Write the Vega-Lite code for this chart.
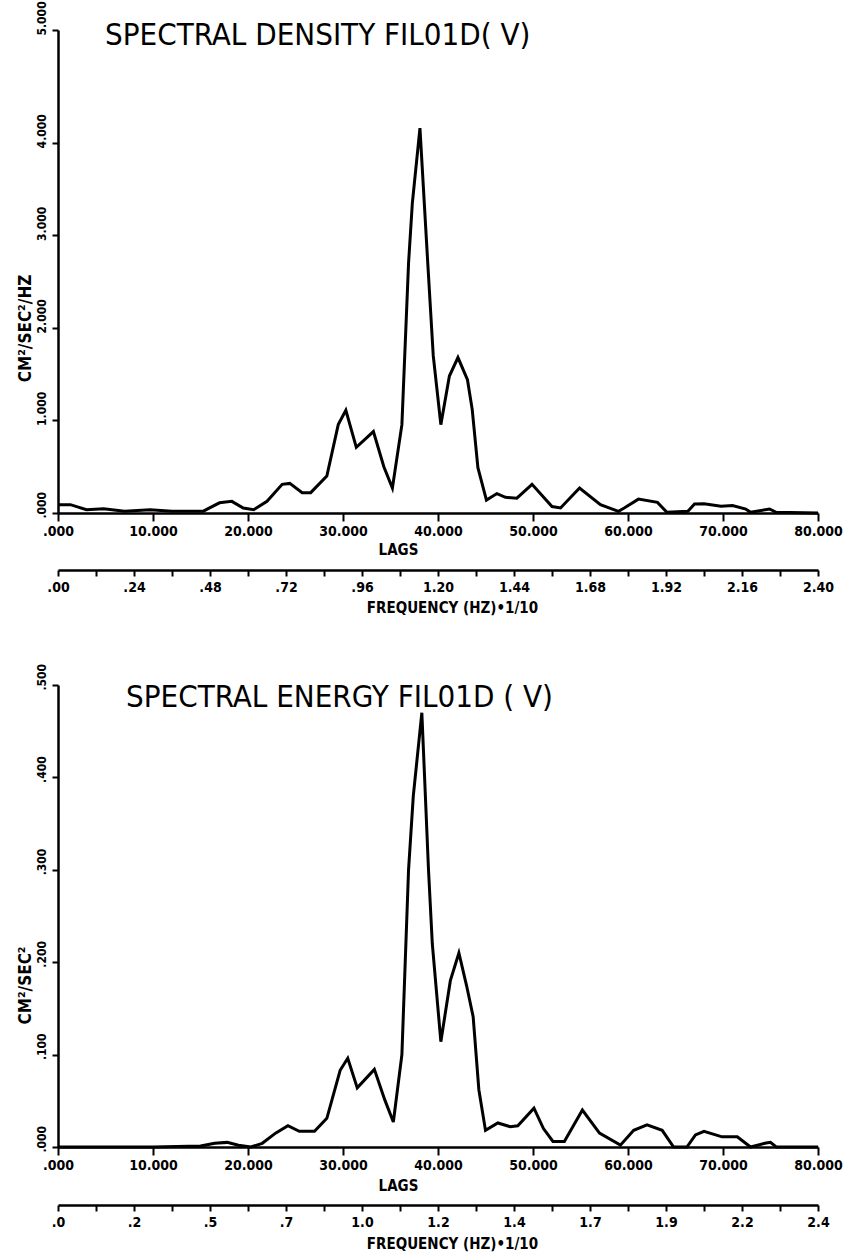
{
  "$schema": "https://vega.github.io/schema/vega-lite/v6.json",
  "background": "white",
  "padding": {"left": 16, "top": 0, "right": 5, "bottom": 5},
  "spacing": 172,
  "bounds": "flush",
  "config": {
    "view": {"stroke": null},
    "font": "DejaVu Sans Condensed, Liberation Sans Narrow, DejaVu Sans, sans-serif",
    "axis": {
      "grid": false,
      "domainColor": "black",
      "domainWidth": 2.5,
      "tickColor": "black",
      "tickWidth": 2,
      "labelColor": "black",
      "titleColor": "black",
      "labelFont": "DejaVu Sans Condensed, Liberation Sans Narrow, DejaVu Sans, sans-serif",
      "titleFont": "DejaVu Sans Condensed, Liberation Sans Narrow, DejaVu Sans, sans-serif",
      "labelFontWeight": "bold",
      "titleFontWeight": "bold",
      "labelFlush": false,
      "labelOverlap": false
    }
  },
  "datasets": {
    "density": [
      {"lag": 0, "value": 0.09}, {"lag": 1.3, "value": 0.09}, {"lag": 3, "value": 0.036},
      {"lag": 4.8, "value": 0.045}, {"lag": 7, "value": 0.02}, {"lag": 9.7, "value": 0.036},
      {"lag": 12, "value": 0.02}, {"lag": 15.3, "value": 0.02}, {"lag": 17, "value": 0.11},
      {"lag": 18.3, "value": 0.126}, {"lag": 19.5, "value": 0.054}, {"lag": 20.6, "value": 0.036},
      {"lag": 22, "value": 0.126}, {"lag": 23.6, "value": 0.31}, {"lag": 24.4, "value": 0.32},
      {"lag": 25.7, "value": 0.22}, {"lag": 26.6, "value": 0.22}, {"lag": 28.3, "value": 0.4},
      {"lag": 29.5, "value": 0.955}, {"lag": 30.3, "value": 1.11}, {"lag": 31.4, "value": 0.71},
      {"lag": 33.2, "value": 0.88}, {"lag": 34.3, "value": 0.5}, {"lag": 35.2, "value": 0.27},
      {"lag": 36.2, "value": 0.955}, {"lag": 36.9, "value": 2.7}, {"lag": 37.3, "value": 3.35},
      {"lag": 38.1, "value": 4.16}, {"lag": 38.9, "value": 2.74}, {"lag": 39.5, "value": 1.7},
      {"lag": 40.3, "value": 0.955}, {"lag": 41.2, "value": 1.48}, {"lag": 42.1, "value": 1.68},
      {"lag": 43.1, "value": 1.44}, {"lag": 43.6, "value": 1.12}, {"lag": 44.2, "value": 0.49},
      {"lag": 45.1, "value": 0.14}, {"lag": 46.2, "value": 0.21}, {"lag": 47.1, "value": 0.17},
      {"lag": 48.3, "value": 0.16}, {"lag": 49.9, "value": 0.31}, {"lag": 52.0, "value": 0.07},
      {"lag": 52.9, "value": 0.054}, {"lag": 54.9, "value": 0.27}, {"lag": 57.1, "value": 0.09},
      {"lag": 59.0, "value": 0.018}, {"lag": 59.6, "value": 0.054}, {"lag": 61.1, "value": 0.15},
      {"lag": 63.1, "value": 0.115}, {"lag": 64.1, "value": 0.007}, {"lag": 66.3, "value": 0.018},
      {"lag": 67.0, "value": 0.097}, {"lag": 68.0, "value": 0.1}, {"lag": 69.8, "value": 0.072},
      {"lag": 71.0, "value": 0.08}, {"lag": 72.4, "value": 0.043}, {"lag": 72.9, "value": 0.007},
      {"lag": 74.9, "value": 0.043}, {"lag": 75.6, "value": 0.007}, {"lag": 80, "value": 0.0}
    ],
    "energy": [
      {"lag": 0, "value": 0.0}, {"lag": 5, "value": 0.0}, {"lag": 10, "value": 0.0},
      {"lag": 15, "value": 0.001}, {"lag": 16.5, "value": 0.004}, {"lag": 17.8, "value": 0.005},
      {"lag": 19, "value": 0.002}, {"lag": 20.3, "value": 0.0}, {"lag": 21.5, "value": 0.004},
      {"lag": 22.9, "value": 0.015}, {"lag": 24.2, "value": 0.023}, {"lag": 25.4, "value": 0.017},
      {"lag": 27, "value": 0.017}, {"lag": 28.3, "value": 0.031}, {"lag": 29.7, "value": 0.083},
      {"lag": 30.5, "value": 0.096}, {"lag": 31.5, "value": 0.064}, {"lag": 33.3, "value": 0.084},
      {"lag": 34.4, "value": 0.051}, {"lag": 35.3, "value": 0.027}, {"lag": 36.2, "value": 0.1},
      {"lag": 36.9, "value": 0.3}, {"lag": 37.4, "value": 0.38}, {"lag": 38.3, "value": 0.47},
      {"lag": 39.0, "value": 0.3}, {"lag": 39.4, "value": 0.22}, {"lag": 40.3, "value": 0.114},
      {"lag": 41.3, "value": 0.18}, {"lag": 42.2, "value": 0.21}, {"lag": 43.0, "value": 0.175},
      {"lag": 43.7, "value": 0.141}, {"lag": 44.3, "value": 0.062}, {"lag": 45.0, "value": 0.018},
      {"lag": 46.3, "value": 0.026}, {"lag": 47.6, "value": 0.022}, {"lag": 48.4, "value": 0.023},
      {"lag": 50.1, "value": 0.042}, {"lag": 51.1, "value": 0.02}, {"lag": 52.1, "value": 0.006},
      {"lag": 53.3, "value": 0.006}, {"lag": 55.2, "value": 0.04}, {"lag": 57.0, "value": 0.015},
      {"lag": 59.2, "value": 0.002}, {"lag": 60.6, "value": 0.018}, {"lag": 62.0, "value": 0.024},
      {"lag": 63.6, "value": 0.018}, {"lag": 64.8, "value": 0.0}, {"lag": 66.2, "value": 0.0},
      {"lag": 67.1, "value": 0.013}, {"lag": 68.0, "value": 0.017}, {"lag": 69.9, "value": 0.011},
      {"lag": 71.5, "value": 0.011}, {"lag": 72.9, "value": 0.0}, {"lag": 74.4, "value": 0.004},
      {"lag": 75.0, "value": 0.005}, {"lag": 75.6, "value": 0.0}, {"lag": 80, "value": 0.0}
    ]
  },
  "vconcat": [
    {
      "width": 760,
      "height": 483,
      "data": {"name": "density"},
      "title": {
        "text": "SPECTRAL DENSITY FIL01D( V)",
        "anchor": "start",
        "frame": "group",
        "orient": "top",
        "offset": -75,
        "baseline": "alphabetic",
        "dx": 47,
        "fontSize": 31,
        "fontWeight": "normal",
        "color": "black"
      },
      "layer": [
        {
          "mark": {"type": "line", "color": "black", "strokeWidth": 3},
          "encoding": {
            "x": {
              "field": "lag", "type": "quantitative",
              "scale": {"domain": [0, 80], "nice": false},
              "axis": {
                "values": [0, 10, 20, 30, 40, 50, 60, 70, 80],
                "labelExpr": "datum.value == 0 ? '.000' : format(datum.value, '.3f')",
                "title": "LAGS", "titleFontSize": 15,
                "titleX": 340, "titleY": 36, "titleBaseline": "middle", "titleAlign": "center",
                "tickSize": 8, "labelPadding": 3, "labelFontSize": 14
              }
            },
            "y": {
              "field": "value", "type": "quantitative",
              "scale": {"domain": [0, 5.22], "nice": false},
              "axis": {
                "values": [0, 1, 2, 3, 4, 5.22],
                "labelExpr": "datum.value > 5 ? '5.000' : (datum.value == 0 ? '.000' : format(datum.value, '.3f'))",
                "labelAngle": -90, "labelAlign": "left", "labelBaseline": "bottom",
                "labelFontSize": 12, "tickSize": 6, "labelPadding": 4, "labelOffset": 5,
                "title": "CM²/SEC²/HZ", "titleFontSize": 17,
                "titleX": -24, "titleY": 298, "titleAngle": -90, "titleAlign": "center", "titleBaseline": "bottom"
              }
            }
          }
        },
        {
          "mark": {"type": "point", "opacity": 0},
          "encoding": {
            "x": {
              "datum": 0, "type": "quantitative",
              "scale": {"domain": [0, 2.4], "nice": false},
              "axis": {
                "orient": "bottom", "offset": 57,
                "values": [0, 0.12, 0.24, 0.36, 0.48, 0.6, 0.72, 0.84, 0.96, 1.08, 1.2, 1.32, 1.44, 1.56, 1.68, 1.8, 1.92, 2.04, 2.16, 2.28, 2.4],
                "labelExpr": "round(datum.value / 0.12) % 2 == 1 ? '' : (indexof(format(datum.value, '.2f'), '0') == 0 ? substring(format(datum.value, '.2f'), 1) : format(datum.value, '.2f'))",
                "labelFontSize": 14, "tickSize": 6, "labelPadding": 4,
                "title": "FREQUENCY (HZ)•1/10", "titleFontSize": 15,
                "titleX": 394, "titleY": 37, "titleBaseline": "middle", "titleAlign": "center"
              }
            }
          }
        }
      ],
      "resolve": {"scale": {"x": "independent"}, "axis": {"x": "independent"}}
    },
    {
      "width": 760,
      "height": 462,
      "data": {"name": "energy"},
      "title": {
        "text": "SPECTRAL ENERGY FIL01D ( V)",
        "anchor": "start",
        "frame": "group",
        "orient": "top",
        "offset": -75,
        "baseline": "alphabetic",
        "dx": 68,
        "fontSize": 31,
        "fontWeight": "normal",
        "color": "black"
      },
      "layer": [
        {
          "mark": {"type": "line", "color": "black", "strokeWidth": 3},
          "encoding": {
            "x": {
              "field": "lag", "type": "quantitative",
              "scale": {"domain": [0, 80], "nice": false},
              "axis": {
                "values": [0, 10, 20, 30, 40, 50, 60, 70, 80],
                "labelExpr": "datum.value == 0 ? '.000' : format(datum.value, '.3f')",
                "title": "LAGS", "titleFontSize": 15,
                "titleX": 340, "titleY": 38, "titleBaseline": "middle", "titleAlign": "center",
                "tickSize": 8, "labelPadding": 3, "labelFontSize": 14
              }
            },
            "y": {
              "field": "value", "type": "quantitative",
              "scale": {"domain": [0, 0.5], "nice": false},
              "axis": {
                "values": [0, 0.1, 0.2, 0.3, 0.4, 0.5],
                "labelExpr": "substring(format(datum.value, '.3f'), 1)",
                "labelAngle": -90, "labelAlign": "left", "labelBaseline": "bottom",
                "labelFontSize": 12, "tickSize": 6, "labelPadding": 4, "labelOffset": 5,
                "title": "CM²/SEC²", "titleFontSize": 17,
                "titleX": -24, "titleY": 300, "titleAngle": -90, "titleAlign": "center", "titleBaseline": "bottom"
              }
            }
          }
        },
        {
          "mark": {"type": "point", "opacity": 0},
          "encoding": {
            "x": {
              "datum": 0, "type": "quantitative",
              "scale": {"domain": [0, 2.4], "nice": false},
              "axis": {
                "orient": "bottom", "offset": 58,
                "values": [0, 0.12, 0.24, 0.36, 0.48, 0.6, 0.72, 0.84, 0.96, 1.08, 1.2, 1.32, 1.44, 1.56, 1.68, 1.8, 1.92, 2.04, 2.16, 2.28, 2.4],
                "labelExpr": "round(datum.value / 0.12) % 2 == 1 ? '' : (indexof(format(datum.value, '.1f'), '0') == 0 ? substring(format(datum.value, '.1f'), 1) : format(datum.value, '.1f'))",
                "labelFontSize": 14, "tickSize": 6, "labelPadding": 4,
                "title": "FREQUENCY (HZ)•1/10", "titleFontSize": 15,
                "titleX": 394, "titleY": 38, "titleBaseline": "middle", "titleAlign": "center"
              }
            }
          }
        }
      ],
      "resolve": {"scale": {"x": "independent"}, "axis": {"x": "independent"}}
    }
  ]
}
